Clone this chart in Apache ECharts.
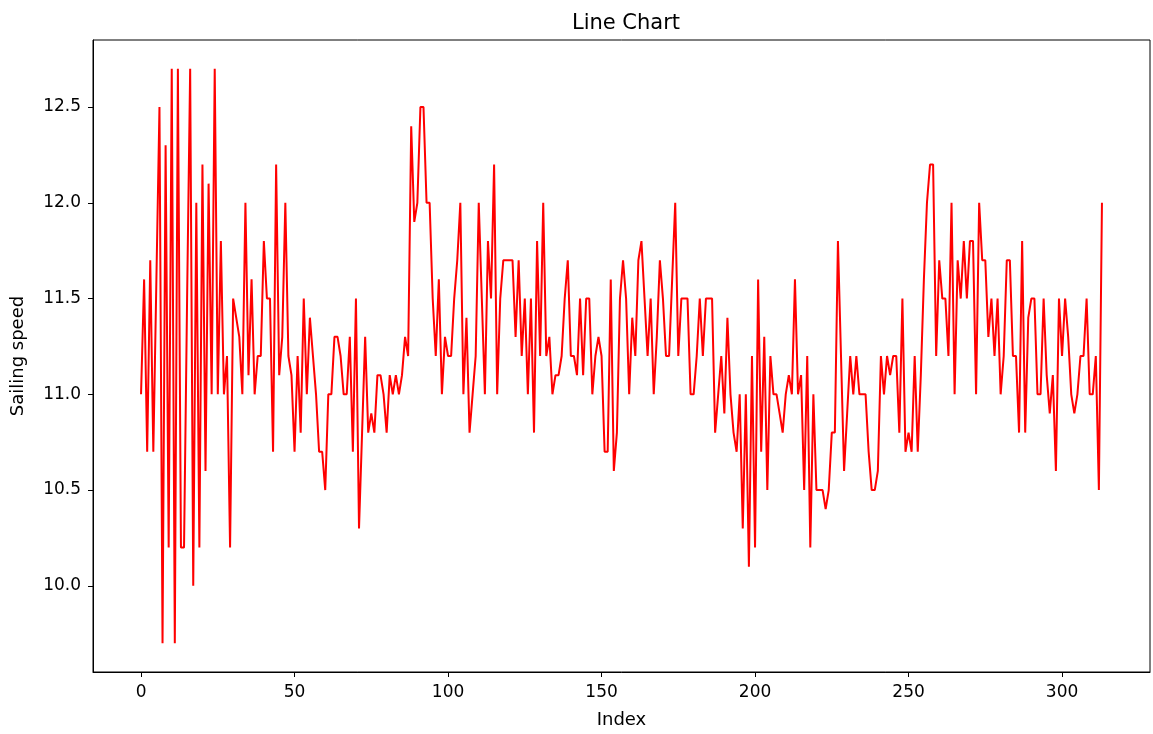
<!DOCTYPE html>
<html>
<head>
<meta charset="utf-8">
<script src="https://cdn.jsdelivr.net/npm/echarts@6/dist/echarts.min.js"></script>
<style>
  html, body { margin: 0; padding: 0; background: #fff; }
  #chart { width: 1153px; height: 734px; }
</style>
</head>
<body>
<div id="chart"></div>
<script>
  // sailing speed per index (0..313)
  const speeds = [
    11.0, 11.6, 10.7, 11.7, 10.7, 11.6, 12.5, 9.7, 12.3, 10.2,
    12.7, 9.7, 12.7, 10.2, 10.2, 11.5, 12.7, 10.0, 12.0, 10.2,
    12.2, 10.6, 12.1, 11.0, 12.7, 11.0, 11.8, 11.0, 11.2, 10.2,
    11.5, 11.4, 11.3, 11.0, 12.0, 11.1, 11.6, 11.0, 11.2, 11.2,
    11.8, 11.5, 11.5, 10.7, 12.2, 11.1, 11.3, 12.0, 11.2, 11.1,
    10.7, 11.2, 10.8, 11.5, 11.0, 11.4, 11.2, 11.0, 10.7, 10.7,
    10.5, 11.0, 11.0, 11.3, 11.3, 11.2, 11.0, 11.0, 11.3, 10.7,
    11.5, 10.3, 10.8, 11.3, 10.8, 10.9, 10.8, 11.1, 11.1, 11.0,
    10.8, 11.1, 11.0, 11.1, 11.0, 11.1, 11.3, 11.2, 12.4, 11.9,
    12.0, 12.5, 12.5, 12.0, 12.0, 11.5, 11.2, 11.6, 11.0, 11.3,
    11.2, 11.2, 11.5, 11.7, 12.0, 11.0, 11.4, 10.8, 11.0, 11.2,
    12.0, 11.5, 11.0, 11.8, 11.5, 12.2, 11.0, 11.5, 11.7, 11.7,
    11.7, 11.7, 11.3, 11.7, 11.2, 11.5, 11.0, 11.5, 10.8, 11.8,
    11.2, 12.0, 11.2, 11.3, 11.0, 11.1, 11.1, 11.2, 11.5, 11.7,
    11.2, 11.2, 11.1, 11.5, 11.1, 11.5, 11.5, 11.0, 11.2, 11.3,
    11.2, 10.7, 10.7, 11.6, 10.6, 10.8, 11.5, 11.7, 11.5, 11.0,
    11.4, 11.2, 11.7, 11.8, 11.5, 11.2, 11.5, 11.0, 11.3, 11.7,
    11.5, 11.2, 11.2, 11.6, 12.0, 11.2, 11.5, 11.5, 11.5, 11.0,
    11.0, 11.2, 11.5, 11.2, 11.5, 11.5, 11.5, 10.8, 11.0, 11.2,
    10.9, 11.4, 11.0, 10.8, 10.7, 11.0, 10.3, 11.0, 10.1, 11.2,
    10.2, 11.6, 10.7, 11.3, 10.5, 11.2, 11.0, 11.0, 10.9, 10.8,
    11.0, 11.1, 11.0, 11.6, 11.0, 11.1, 10.5, 11.2, 10.2, 11.0,
    10.5, 10.5, 10.5, 10.4, 10.5, 10.8, 10.8, 11.8, 11.2, 10.6,
    10.9, 11.2, 11.0, 11.2, 11.0, 11.0, 11.0, 10.7, 10.5, 10.5,
    10.6, 11.2, 11.0, 11.2, 11.1, 11.2, 11.2, 10.8, 11.5, 10.7,
    10.8, 10.7, 11.2, 10.7, 11.1, 11.6, 12.0, 12.2, 12.2, 11.2,
    11.7, 11.5, 11.5, 11.2, 12.0, 11.0, 11.7, 11.5, 11.8, 11.5,
    11.8, 11.8, 11.0, 12.0, 11.7, 11.7, 11.3, 11.5, 11.2, 11.5,
    11.0, 11.2, 11.7, 11.7, 11.2, 11.2, 10.8, 11.8, 10.8, 11.4,
    11.5, 11.5, 11.0, 11.0, 11.5, 11.1, 10.9, 11.1, 10.6, 11.5,
    11.2, 11.5, 11.3, 11.0, 10.9, 11.0, 11.2, 11.2, 11.5, 11.0,
    11.0, 11.2, 10.5, 12.0
  ];
  const xTicks = [0, 50, 100, 150, 200, 250, 300];
  const yTicks = [10.0, 10.5, 11.0, 11.5, 12.0, 12.5];

  const font = 'DejaVu Sans';
  const points = speeds.map((v, i) => [i, v]);

  const chart = echarts.init(document.getElementById('chart'));
  chart.setOption({
    animation: false,
    backgroundColor: '#fff',
    title: {
      text: 'Line Chart', left: 621, textAlign: 'center', top: 8,
      textStyle: { fontFamily: font, fontSize: 21, fontWeight: 'normal', color: '#000' }
    },
    grid: {
      left: 93, right: 3, top: 40, bottom: 62, outerBoundsMode: 'none',
      show: true, borderColor: '#000', borderWidth: 1
    },
    xAxis: {
      type: 'value', min: -15.65, max: 328.65,
      name: 'Index', nameLocation: 'middle', nameGap: 39,
      nameTextStyle: { fontFamily: font, fontSize: 18, color: '#000' },
      splitLine: { show: false },
      axisLine: { onZero: false, lineStyle: { color: '#000' } },
      axisTick: { show: true, length: 5, lineStyle: { color: '#000' }, customValues: xTicks },
      axisLabel: { fontFamily: font, fontSize: 17, color: '#000', margin: 12, customValues: xTicks }
    },
    yAxis: {
      type: 'value', min: 9.55, max: 12.85,
      name: 'Sailing speed', nameLocation: 'middle', nameGap: 66, nameRotate: 90,
      nameTextStyle: { fontFamily: font, fontSize: 18, color: '#000' },
      splitLine: { show: false },
      axisLine: { show: true, onZero: false, lineStyle: { color: '#000' } },
      axisTick: { show: true, length: 5, lineStyle: { color: '#000' }, customValues: yTicks },
      axisLabel: {
        fontFamily: font, fontSize: 17, color: '#000', margin: 12, customValues: yTicks,
        formatter: v => Number(v).toFixed(1)
      }
    },
    series: [{
      type: 'line', data: points, showSymbol: false,
      lineStyle: { color: '#ff0000', width: 2 }, itemStyle: { color: '#ff0000' }
    }]
  });
</script>
</body>
</html>
